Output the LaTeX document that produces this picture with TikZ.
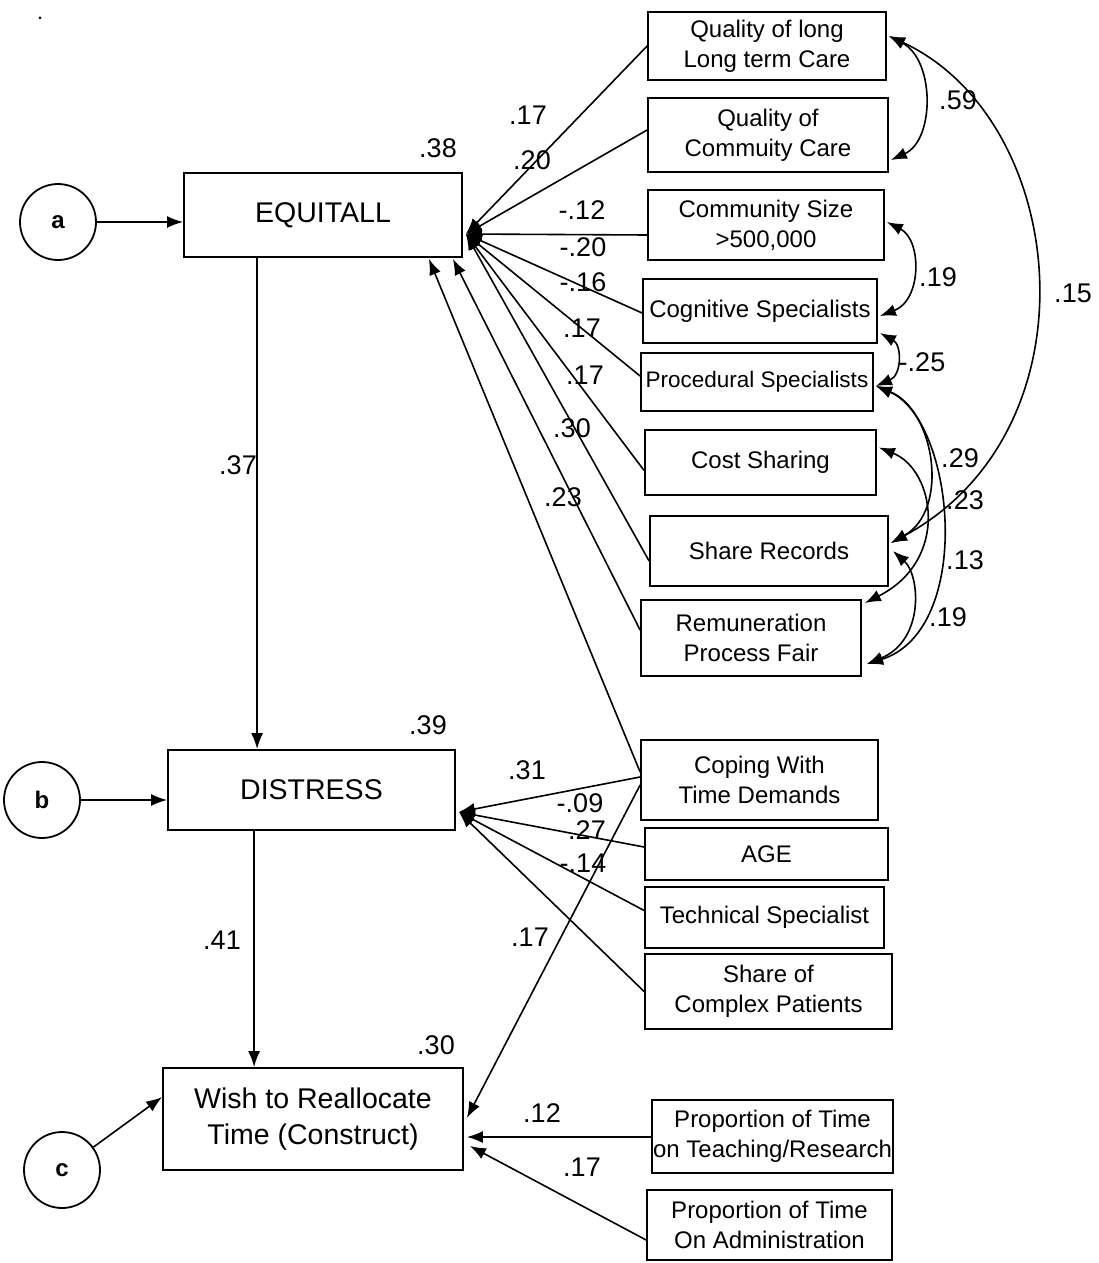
\documentclass[tikz,border=0pt]{standalone}
\usepackage{fontspec}
\setmainfont{Liberation Sans}
\usetikzlibrary{arrows.meta,calc}
\begin{document}
\begin{tikzpicture}[x=1pt,y=-1pt,
  vbox/.style={draw,line width=1.8pt,inner sep=0pt,align=center,font=\fontsize{24}{30}\selectfont},
  mbox/.style={vbox,font=\fontsize{28.5}{36}\selectfont},
  lat/.style={draw,circle,line width=1.8pt,minimum size=76pt,inner sep=0pt,font=\bfseries\fontsize{24}{28}\selectfont},
  coef/.style={font=\fontsize{27}{30}\selectfont,inner sep=0pt},
  arr/.style={line width=1.6pt,-{Latex[length=16pt,width=12pt]}},
  corrarr/.style={line width=1.6pt,{Latex[length=16pt,width=12pt]}-{Latex[length=16pt,width=12pt]}}
]
\useasboundingbox (0,0) rectangle (1098,1263);
\fill (40,18) circle (1.5pt);

% latent error circles
\node[lat] (a) at (58,222) {a};
\node[lat] (b) at (42,800) {b};
\node[lat] (c) at (62,1170) {c};

% main variables
\node[mbox,minimum width=278pt,minimum height=84pt] (eq) at (323,215) {EQUITALL};
\node[mbox,minimum width=287pt,minimum height=80pt] (dis) at (311.5,790) {DISTRESS};
\node[mbox,minimum width=300pt,minimum height=102pt] (wish) at (313,1119) {Wish to Reallocate\\Time (Construct)};

% predictors
\node[vbox,minimum width=238pt,minimum height=68pt] (q1) at (767,46) {Quality of long\\Long term Care};
\node[vbox,minimum width=240pt,minimum height=74pt] (q2) at (768,135) {Quality of\\Commuity Care};
\node[vbox,minimum width=236pt,minimum height=70pt] (cs) at (766,225) {Community Size\\>500,000};
\node[vbox,minimum width=234pt,minimum height=64pt] (cog) at (760,311) {Cognitive Specialists};
\node[vbox,minimum width=232pt,minimum height=58pt,font=\fontsize{22.5}{28}\selectfont] (proc) at (757,382) {Procedural Specialists};
\node[vbox,minimum width=231pt,minimum height=65pt] (cost) at (760.5,462.5) {Cost Sharing};
\node[vbox,minimum width=238pt,minimum height=70pt] (share) at (769,551) {Share Records};
\node[vbox,minimum width=220pt,minimum height=76pt] (rem) at (751,638) {Remuneration\\Process Fair};
\node[vbox,minimum width=237pt,minimum height=80pt] (cop) at (759.5,780) {Coping With\\Time Demands};
\node[vbox,minimum width=243pt,minimum height=52pt] (age) at (766.5,854) {AGE};
\node[vbox,minimum width=239pt,minimum height=61pt] (tech) at (764.5,917.5) {Technical Specialist};
\node[vbox,minimum width=247pt,minimum height=75pt] (scp) at (768.5,991.5) {Share of\\Complex Patients};
\node[vbox,minimum width=241pt,minimum height=73pt] (pt) at (772.5,1136.5) {Proportion of Time\\on Teaching/Research};
\node[vbox,minimum width=245pt,minimum height=70pt] (pa) at (769.5,1225) {Proportion of Time\\On Administration};

% error arrows
\draw[arr] (a.east) -- (a.east -| eq.west);
\draw[arr] (b.east) -- (b.east -| dis.west);
\draw[arr] (c) -- ($(wish.west)+(0,-22)$);

% structural paths
\draw[arr] ($(eq.south west)+(74,0)$) -- ($(dis.north west)+(90,0)$);
\draw[arr] ($(dis.south west)+(87,0)$) -- ($(wish.north west)+(92,0)$);

% into EQUITALL
\coordinate (eqR) at ($(eq.east)+(3,19)$);
\draw[arr] (q1.west) -- (eqR);
\draw[arr] ($(q2.west)+(0,-5)$) -- (eqR);
\draw[arr] ($(cs.west)+(0,10)$) -- (eqR);
\draw[arr] ($(cog.west)+(0,2)$) -- (eqR);
\draw[arr] ($(proc.west)+(0,-6)$) -- (eqR);
\draw[arr] ($(cost.west)+(0,8)$) -- (eqR);
\draw[arr] ($(share.west)+(0,10)$) -- (eqR);
\draw[arr] ($(rem.west)+(0,-8)$) -- ($(eq.south east)+(-10,1)$);
\draw[arr] ($(cop.west)+(0,-8)$) -- ($(eq.south east)+(-34,1)$);

% into DISTRESS
\coordinate (disR) at ($(dis.east)+(3,22)$);
\draw[arr] ($(cop.west)+(0,-3)$) -- (disR);
\draw[arr] ($(age.west)+(0,-7)$) -- (disR);
\draw[arr] ($(tech.west)+(0,-7)$) -- (disR);
\draw[arr] (scp.west) -- (disR);

% into Wish
\draw[arr] ($(cop.west)+(0,5)$) -- ($(wish.east)+(3,-1)$);
\draw[arr] ($(pt.west)+(0,0.5)$) -- ($(wish.east)+(3,18)$);
\draw[arr] ($(pa.west)+(0,15)$) -- ($(wish.east)+(6,27)$);

% correlations
\draw[corrarr] ($(q1.east)+(2,-10)$) .. controls (935,60) and (935,140) .. ($(q2.east)+(2,25)$);
\draw[corrarr] ($(q1.east)+(2,-10)$) .. controls (1070,120) and (1100,430) .. ($(share.east)+(2,-8)$);
\draw[corrarr] ($(cs.east)+(2,-3)$) .. controls (922,240) and (922,300) .. ($(cog.east)+(2,5)$);
\draw[corrarr] ($(cog.east)+(2,22)$) .. controls (902,345) and (902,375) .. ($(proc.east)+(2,4)$);
\draw[corrarr] ($(proc.east)+(2,4)$) .. controls (935,410) and (950,510) .. ($(share.east)+(2,-8)$);
\draw[corrarr] ($(cost.east)+(2,-15)$) .. controls (935,470) and (950,560) .. ($(rem.east)+(3,-35)$);
\draw[corrarr] ($(proc.east)+(2,4)$) .. controls (955,420) and (975,630) .. ($(rem.east)+(5,26)$);
\draw[corrarr] ($(share.east)+(4,0)$) .. controls (920,575) and (925,640) .. ($(rem.east)+(5,26)$);

% coefficients
\node[coef] at (438,148) {.38};
\node[coef] at (428,725) {.39};
\node[coef] at (436,1045) {.30};
\node[coef] at (238,465) {.37};
\node[coef] at (222,940) {.41};
\node[coef] at (528,115) {.17};
\node[coef] at (532,160) {.20};
\node[coef] at (582,210) {-.12};
\node[coef] at (583,247) {-.20};
\node[coef] at (583,282) {-.16};
\node[coef] at (582,328) {.17};
\node[coef] at (585,375) {.17};
\node[coef] at (572,428) {.30};
\node[coef] at (563,497) {.23};
\node[coef] at (527,770) {.31};
\node[coef] at (580,803) {-.09};
\node[coef] at (587,830) {.27};
\node[coef] at (583,863) {-.14};
\node[coef] at (530,937) {.17};
\node[coef] at (542,1113) {.12};
\node[coef] at (582,1167) {.17};
\node[coef] at (958,100) {.59};
\node[coef] at (938,277) {.19};
\node[coef] at (1073,293) {.15};
\node[coef] at (922,362) {-.25};
\node[coef] at (960,458) {.29};
\node[coef] at (965,500) {.23};
\node[coef] at (965,560) {.13};
\node[coef] at (948,617) {.19};
\end{tikzpicture}
\end{document}
